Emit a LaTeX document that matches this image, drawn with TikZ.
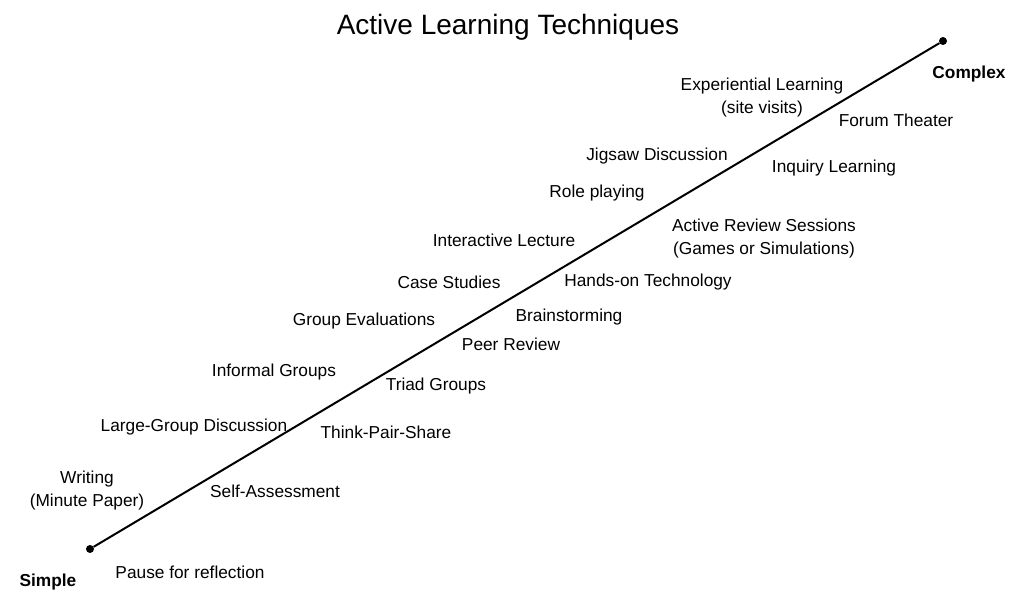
\documentclass[tikz,border=0pt]{standalone}
\usepackage{fontspec}
\setmainfont{Liberation Sans}
\usetikzlibrary{positioning}

\begin{document}
\begin{tikzpicture}[x=1pt,y=-1pt,
  lbl/.style={inner sep=0pt,yshift=-2.5pt,align=center,font=\fontsize{17.3}{23}\selectfont},
  endlbl/.style={lbl,font=\fontsize{17.3}{23}\selectfont\bfseries},
  dot/.style={circle,fill=black,inner sep=0pt,minimum size=8pt}]
  \useasboundingbox (0,0) rectangle (1012,592);
  \node[lbl,font=\fontsize{28}{32}\selectfont] (title) at (508,25) {Active Learning Techniques};
  % the scale from simple to complex
  \node[dot] (lo) at (90,549) {};
  \node[dot] (hi) at (943,41) {};
  \draw[line width=2pt] (lo) -- (hi);
  \node[endlbl] (simple) at (48,580) {Simple};
  \node[endlbl] (complex) at (969,72) {Complex};
  % above the line
  \node[lbl] (writing) at (87,488) {Writing\\(Minute Paper)};
  \node[lbl] (largegrp) at (194,425) {Large-Group Discussion};
  \node[lbl] (informal) at (274,370) {Informal Groups};
  \node[lbl] (groupeval) at (364,319) {Group Evaluations};
  \node[lbl] (casestud) at (449,280) {Case Studies};
  \node[lbl] (lecture) at (504,238) {Interactive Lecture};
  \node[lbl] (roleplay) at (597,191) {Role playing};
  \node[lbl] (jigsaw) at (657,154) {Jigsaw Discussion};
  \node[lbl] (experient) at (762,95) {Experiential Learning\\(site visits)};
  % below the line
  \node[lbl] (pause) at (190,570) {Pause for reflection};
  \node[lbl] (selfassess) at (275,489) {Self-Assessment};
  \node[lbl] (thinkpair) at (386,430) {Think-Pair-Share};
  \node[lbl] (triad) at (436,384) {Triad Groups};
  \node[lbl] (peer) at (511,342) {Peer Review};
  \node[lbl] (brainstorm) at (569,315) {Brainstorming};
  \node[lbl] (handson) at (648,280) {Hands-on Technology};
  \node[lbl] (review) at (764,236) {Active Review Sessions\\(Games or Simulations)};
  \node[lbl] (inquiry) at (834,166) {Inquiry Learning};
  \node[lbl] (forum) at (896,118) {Forum Theater};
\end{tikzpicture}
\end{document}
